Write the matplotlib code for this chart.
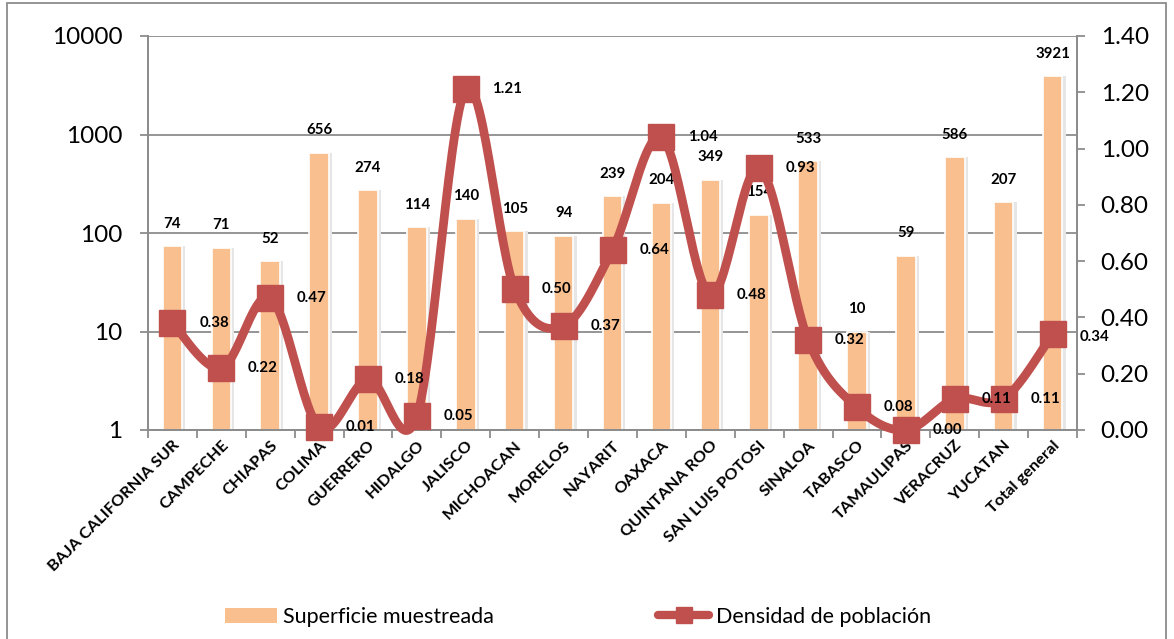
import numpy as np
import matplotlib
matplotlib.use("Agg")
import matplotlib.pyplot as plt
from matplotlib.patches import Rectangle, Patch
from matplotlib.lines import Line2D
from matplotlib.ticker import FixedLocator, NullLocator, FuncFormatter

plt.rcParams['font.family'] = ['Lato', 'DejaVu Sans']

categories = ["BAJA CALIFORNIA SUR", "CAMPECHE", "CHIAPAS", "COLIMA", "GUERRERO",
              "HIDALGO", "JALISCO", "MICHOACAN", "MORELOS", "NAYARIT", "OAXACA",
              "QUINTANA ROO", "SAN LUIS POTOSI", "SINALOA", "TABASCO", "TAMAULIPAS",
              "VERACRUZ", "YUCATAN", "Total general"]
superficie = [74, 71, 52, 656, 274, 114, 140, 105, 94, 239, 204, 349, 154, 533,
              10, 59, 586, 207, 3921]
densidad = [0.38, 0.22, 0.47, 0.01, 0.18, 0.05, 1.21, 0.50, 0.37, 0.64, 1.04,
            0.48, 0.93, 0.32, 0.08, 0.00, 0.11, 0.11, 0.34]
left_ticks = [1, 10, 100, 1000, 10000]
right_ticks = [0.0, 0.2, 0.4, 0.6, 0.8, 1.0, 1.2, 1.4]

BAR_C = '#F9BF8F'
LINE_C = '#C0504D'
GRID_C = '#8C8C8C'

W, H = 1174, 639
fig = plt.figure(figsize=(W / 100, H / 100), dpi=100)
ax = fig.add_axes([148 / W, 1 - 430 / H, (1077 - 148) / W, (430 - 36) / H])
ax2 = ax.twinx()

x = np.arange(len(categories))
# soft shadow behind bars
ax.bar(x + 0.035, superficie, width=0.46, color='#E6E6E6', edgecolor='none', zorder=1.5)
ax.bar(x, superficie, width=0.4, color=BAR_C, edgecolor='white', linewidth=1.2,
       zorder=2)
ax.set_yscale('log')
ax.set_ylim(1, 10000)
ax.set_xlim(-0.5, len(categories) - 0.5)
ax.yaxis.set_major_locator(FixedLocator(left_ticks))
ax.yaxis.set_minor_locator(NullLocator())
ax.yaxis.set_major_formatter(FuncFormatter(lambda v, p: f"{int(round(v))}"))
ax.grid(axis='y', color=GRID_C, linewidth=1.3, zorder=0)
ax.set_axisbelow(True)

for xi, v in zip(x, superficie):
    ax.annotate(f"{v}", (xi, v), xytext=(0, 16), textcoords='offset points',
                ha='center', va='center', fontsize=10.8, fontweight='bold', zorder=5)

ax.set_xticks(np.arange(-0.5, len(categories) + 0.5, 1.0), minor=True)
ax.set_xticks(x)
ax.set_xticklabels(categories, rotation=45, ha='right', rotation_mode='anchor',
                   fontsize=11.8, fontweight='bold')
ax.tick_params(axis='x', which='major', length=0, pad=6)
ax.tick_params(axis='x', which='minor', length=6, color=GRID_C, width=1.3)
ax.tick_params(axis='y', length=6, color=GRID_C, width=1.3, labelsize=17.5, pad=12.5)

for a in (ax, ax2):
    a.spines['top'].set_visible(False)
    for s in ['left', 'right', 'bottom']:
        a.spines[s].set_color(GRID_C)
        a.spines[s].set_linewidth(1.3)

# Excel-style smoothed line through the data points
y = np.array(densidad, dtype=float)
n = len(y)
xs, ys = [], []
t = np.linspace(0, 1, 30)
for i in range(n - 1):
    p0 = y[i - 1] if i > 0 else y[i]
    p1, p2 = y[i], y[i + 1]
    p3 = y[i + 2] if i + 2 < n else y[i + 1]
    x0 = x[i - 1] if i > 0 else x[i]
    x3 = x[i + 2] if i + 2 < n else x[i + 1]
    c1x = x[i] + (x[i + 1] - x0) / 6.0
    c1y = p1 + (p2 - p0) / 6.0
    c2x = x[i + 1] - (x3 - x[i]) / 6.0
    c2y = p2 - (p3 - p1) / 6.0
    bx = (1 - t) ** 3 * x[i] + 3 * (1 - t) ** 2 * t * c1x + 3 * (1 - t) * t ** 2 * c2x + t ** 3 * x[i + 1]
    by = (1 - t) ** 3 * p1 + 3 * (1 - t) ** 2 * t * c1y + 3 * (1 - t) * t ** 2 * c2y + t ** 3 * p2
    xs.extend(bx)
    ys.extend(by)
ax2.plot(xs, ys, color=LINE_C, linewidth=6.3, solid_capstyle='round', zorder=3, clip_on=False)
ax2.plot(x, y, linestyle='none', marker='s', markersize=18.5, color=LINE_C, zorder=4, clip_on=False)
ax2.set_ylim(0, 1.4)
ax2.set_yticks(right_ticks)
ax2.yaxis.set_major_formatter(FuncFormatter(lambda v, p: f"{v:.2f}"))
ax2.tick_params(axis='y', length=6, color=GRID_C, width=1.3, labelsize=17.5, pad=11)

for i, (xi, v) in enumerate(zip(x, densidad)):
    dy = -2 if i == len(x) - 1 else 0
    ax2.annotate(f"{v:.2f}", (xi, v), xytext=(30, dy), textcoords='offset points',
                 ha='center', va='center', fontsize=10.8, fontweight='bold', zorder=6)

h1 = Patch(facecolor=BAR_C, edgecolor='none')
h2 = Line2D([0], [0], color=LINE_C, linewidth=6, marker='s', markersize=12,
            solid_capstyle='round')
fig.legend([h1, h2], ["Superficie muestreada", "Densidad de población"],
           loc='center', bbox_to_anchor=(578 / W, 1 - 617 / H), ncol=2, frameon=False,
           fontsize=15.5, handlelength=2.4, handletextpad=0.3, columnspacing=7.6)

fig.patches.append(Rectangle((7 / W, -0.01), (1166 - 7) / W, 1.0 - 3 / H + 0.01,
                             transform=fig.transFigure, fill=False,
                             edgecolor='#8C8C8C', linewidth=1.3))

fig.savefig('out.png', dpi=100)
